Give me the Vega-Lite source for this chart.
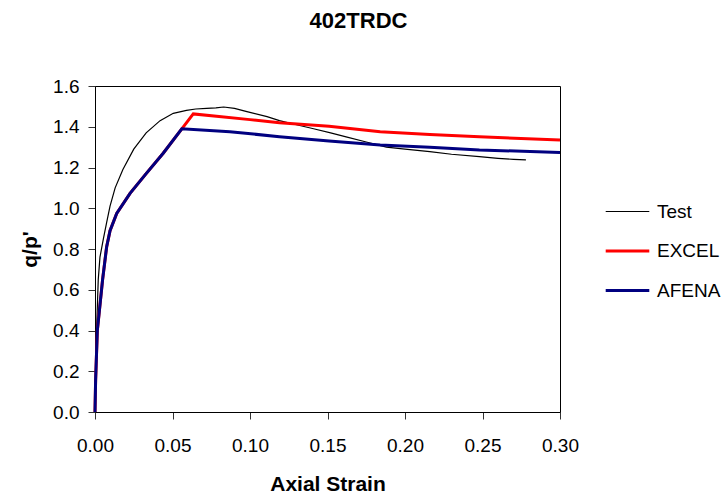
{
  "$schema": "https://vega.github.io/schema/vega-lite/v6.json",
  "width": 465,
  "height": 326,
  "autosize": {"type": "none"},
  "padding": {"left": 95, "top": 86, "right": 167, "bottom": 85},
  "config": {
    "font": "Liberation Sans",
    "view": {"stroke": "#000000", "strokeWidth": 1},
    "axis": {"grid": false, "domainColor": "#000000", "tickColor": "#333333", "labelColor": "#000000", "titleColor": "#000000", "labelFontSize": 19, "titleFontSize": 21, "titleFontWeight": "bold", "tickSize": 7, "labelFont": "Liberation Sans", "titleFont": "Liberation Sans", "labelFlush": false, "labelOverlap": false}
  },
  "title": {"text": "402TRDC", "fontSize": 22, "fontWeight": "bold", "font": "Liberation Sans", "color": "#000000", "offset": 44, "dx": 31},
  "data": {"values": [
    {"series": "Test", "strain": 0.0, "q": 0.0},
    {"series": "Test", "strain": 0.0005, "q": 0.2},
    {"series": "Test", "strain": 0.001, "q": 0.4},
    {"series": "Test", "strain": 0.0021, "q": 0.65},
    {"series": "Test", "strain": 0.0032, "q": 0.76},
    {"series": "Test", "strain": 0.0054, "q": 0.85},
    {"series": "Test", "strain": 0.0075, "q": 0.93},
    {"series": "Test", "strain": 0.0097, "q": 1.01},
    {"series": "Test", "strain": 0.013, "q": 1.1},
    {"series": "Test", "strain": 0.018, "q": 1.19},
    {"series": "Test", "strain": 0.025, "q": 1.29},
    {"series": "Test", "strain": 0.033, "q": 1.37},
    {"series": "Test", "strain": 0.042, "q": 1.43},
    {"series": "Test", "strain": 0.0505, "q": 1.466},
    {"series": "Test", "strain": 0.059, "q": 1.48},
    {"series": "Test", "strain": 0.065, "q": 1.487},
    {"series": "Test", "strain": 0.072, "q": 1.49},
    {"series": "Test", "strain": 0.078, "q": 1.493},
    {"series": "Test", "strain": 0.083, "q": 1.497},
    {"series": "Test", "strain": 0.09, "q": 1.49},
    {"series": "Test", "strain": 0.098, "q": 1.474},
    {"series": "Test", "strain": 0.111, "q": 1.45},
    {"series": "Test", "strain": 0.119, "q": 1.43},
    {"series": "Test", "strain": 0.13, "q": 1.41},
    {"series": "Test", "strain": 0.141, "q": 1.39},
    {"series": "Test", "strain": 0.152, "q": 1.37},
    {"series": "Test", "strain": 0.162, "q": 1.35},
    {"series": "Test", "strain": 0.175, "q": 1.325},
    {"series": "Test", "strain": 0.188, "q": 1.3},
    {"series": "Test", "strain": 0.2, "q": 1.29},
    {"series": "Test", "strain": 0.216, "q": 1.278},
    {"series": "Test", "strain": 0.23, "q": 1.265},
    {"series": "Test", "strain": 0.248, "q": 1.253},
    {"series": "Test", "strain": 0.26, "q": 1.245},
    {"series": "Test", "strain": 0.27, "q": 1.24},
    {"series": "Test", "strain": 0.278, "q": 1.237},
    {"series": "EXCEL", "strain": 0.0, "q": 0.0},
    {"series": "EXCEL", "strain": 0.0004, "q": 0.157},
    {"series": "EXCEL", "strain": 0.0015, "q": 0.4},
    {"series": "EXCEL", "strain": 0.0049, "q": 0.65},
    {"series": "EXCEL", "strain": 0.0075, "q": 0.81},
    {"series": "EXCEL", "strain": 0.0097, "q": 0.89},
    {"series": "EXCEL", "strain": 0.014, "q": 0.975},
    {"series": "EXCEL", "strain": 0.0226, "q": 1.073},
    {"series": "EXCEL", "strain": 0.033, "q": 1.17},
    {"series": "EXCEL", "strain": 0.044, "q": 1.27},
    {"series": "EXCEL", "strain": 0.056, "q": 1.39},
    {"series": "EXCEL", "strain": 0.0634, "q": 1.463},
    {"series": "EXCEL", "strain": 0.08, "q": 1.45},
    {"series": "EXCEL", "strain": 0.1, "q": 1.435},
    {"series": "EXCEL", "strain": 0.119, "q": 1.42},
    {"series": "EXCEL", "strain": 0.151, "q": 1.402},
    {"series": "EXCEL", "strain": 0.184, "q": 1.376},
    {"series": "EXCEL", "strain": 0.216, "q": 1.362},
    {"series": "EXCEL", "strain": 0.248, "q": 1.351},
    {"series": "EXCEL", "strain": 0.3, "q": 1.335},
    {"series": "AFENA", "strain": 0.0, "q": 0.0},
    {"series": "AFENA", "strain": 0.0004, "q": 0.157},
    {"series": "AFENA", "strain": 0.0015, "q": 0.4},
    {"series": "AFENA", "strain": 0.0049, "q": 0.65},
    {"series": "AFENA", "strain": 0.0075, "q": 0.81},
    {"series": "AFENA", "strain": 0.0097, "q": 0.89},
    {"series": "AFENA", "strain": 0.014, "q": 0.975},
    {"series": "AFENA", "strain": 0.0226, "q": 1.073},
    {"series": "AFENA", "strain": 0.033, "q": 1.17},
    {"series": "AFENA", "strain": 0.044, "q": 1.27},
    {"series": "AFENA", "strain": 0.056, "q": 1.39},
    {"series": "AFENA", "strain": 0.087, "q": 1.376},
    {"series": "AFENA", "strain": 0.119, "q": 1.351},
    {"series": "AFENA", "strain": 0.151, "q": 1.33},
    {"series": "AFENA", "strain": 0.184, "q": 1.31},
    {"series": "AFENA", "strain": 0.216, "q": 1.299},
    {"series": "AFENA", "strain": 0.248, "q": 1.286},
    {"series": "AFENA", "strain": 0.3, "q": 1.274}
  ]},
  "encoding": {
    "x": {"field": "strain", "type": "quantitative", "title": "Axial Strain", "scale": {"domain": [0, 0.3], "nice": false}, "axis": {"values": [0, 0.05, 0.1, 0.15, 0.2, 0.25, 0.3], "format": ".2f", "titlePadding": 18, "labelPadding": 17}},
    "y": {"field": "q", "type": "quantitative", "title": "q/p'", "scale": {"domain": [0, 1.6], "nice": false}, "axis": {"values": [0, 0.2, 0.4, 0.6, 0.8, 1.0, 1.2, 1.4, 1.6], "format": ".1f", "titlePadding": 12, "labelPadding": 9}},
    "color": {"field": "series", "type": "nominal", "title": null, "scale": {"domain": ["Test", "EXCEL", "AFENA"], "range": ["#000000", "#FF0000", "#000080"]},
      "legend": {"orient": "none", "legendX": 509, "legendY": 103, "symbolType": "stroke", "symbolSize": 1900, "labelFontSize": 19, "labelColor": "#000000", "labelOffset": 6, "rowPadding": 5.5, "labelFont": "Liberation Sans"}},
    "strokeWidth": {"field": "series", "type": "nominal", "title": null, "scale": {"type": "ordinal", "domain": ["Test", "EXCEL", "AFENA"], "range": [1.2, 3, 3]}},
    "order": {"field": "strain", "type": "quantitative"}
  },
  "layer": [
    {"transform": [{"filter": "datum.series === 'Test'"}], "mark": {"type": "line"}},
    {"transform": [{"filter": "datum.series === 'EXCEL'"}], "mark": {"type": "line"}},
    {"transform": [{"filter": "datum.series === 'AFENA'"}], "mark": {"type": "line"}}
  ]
}
